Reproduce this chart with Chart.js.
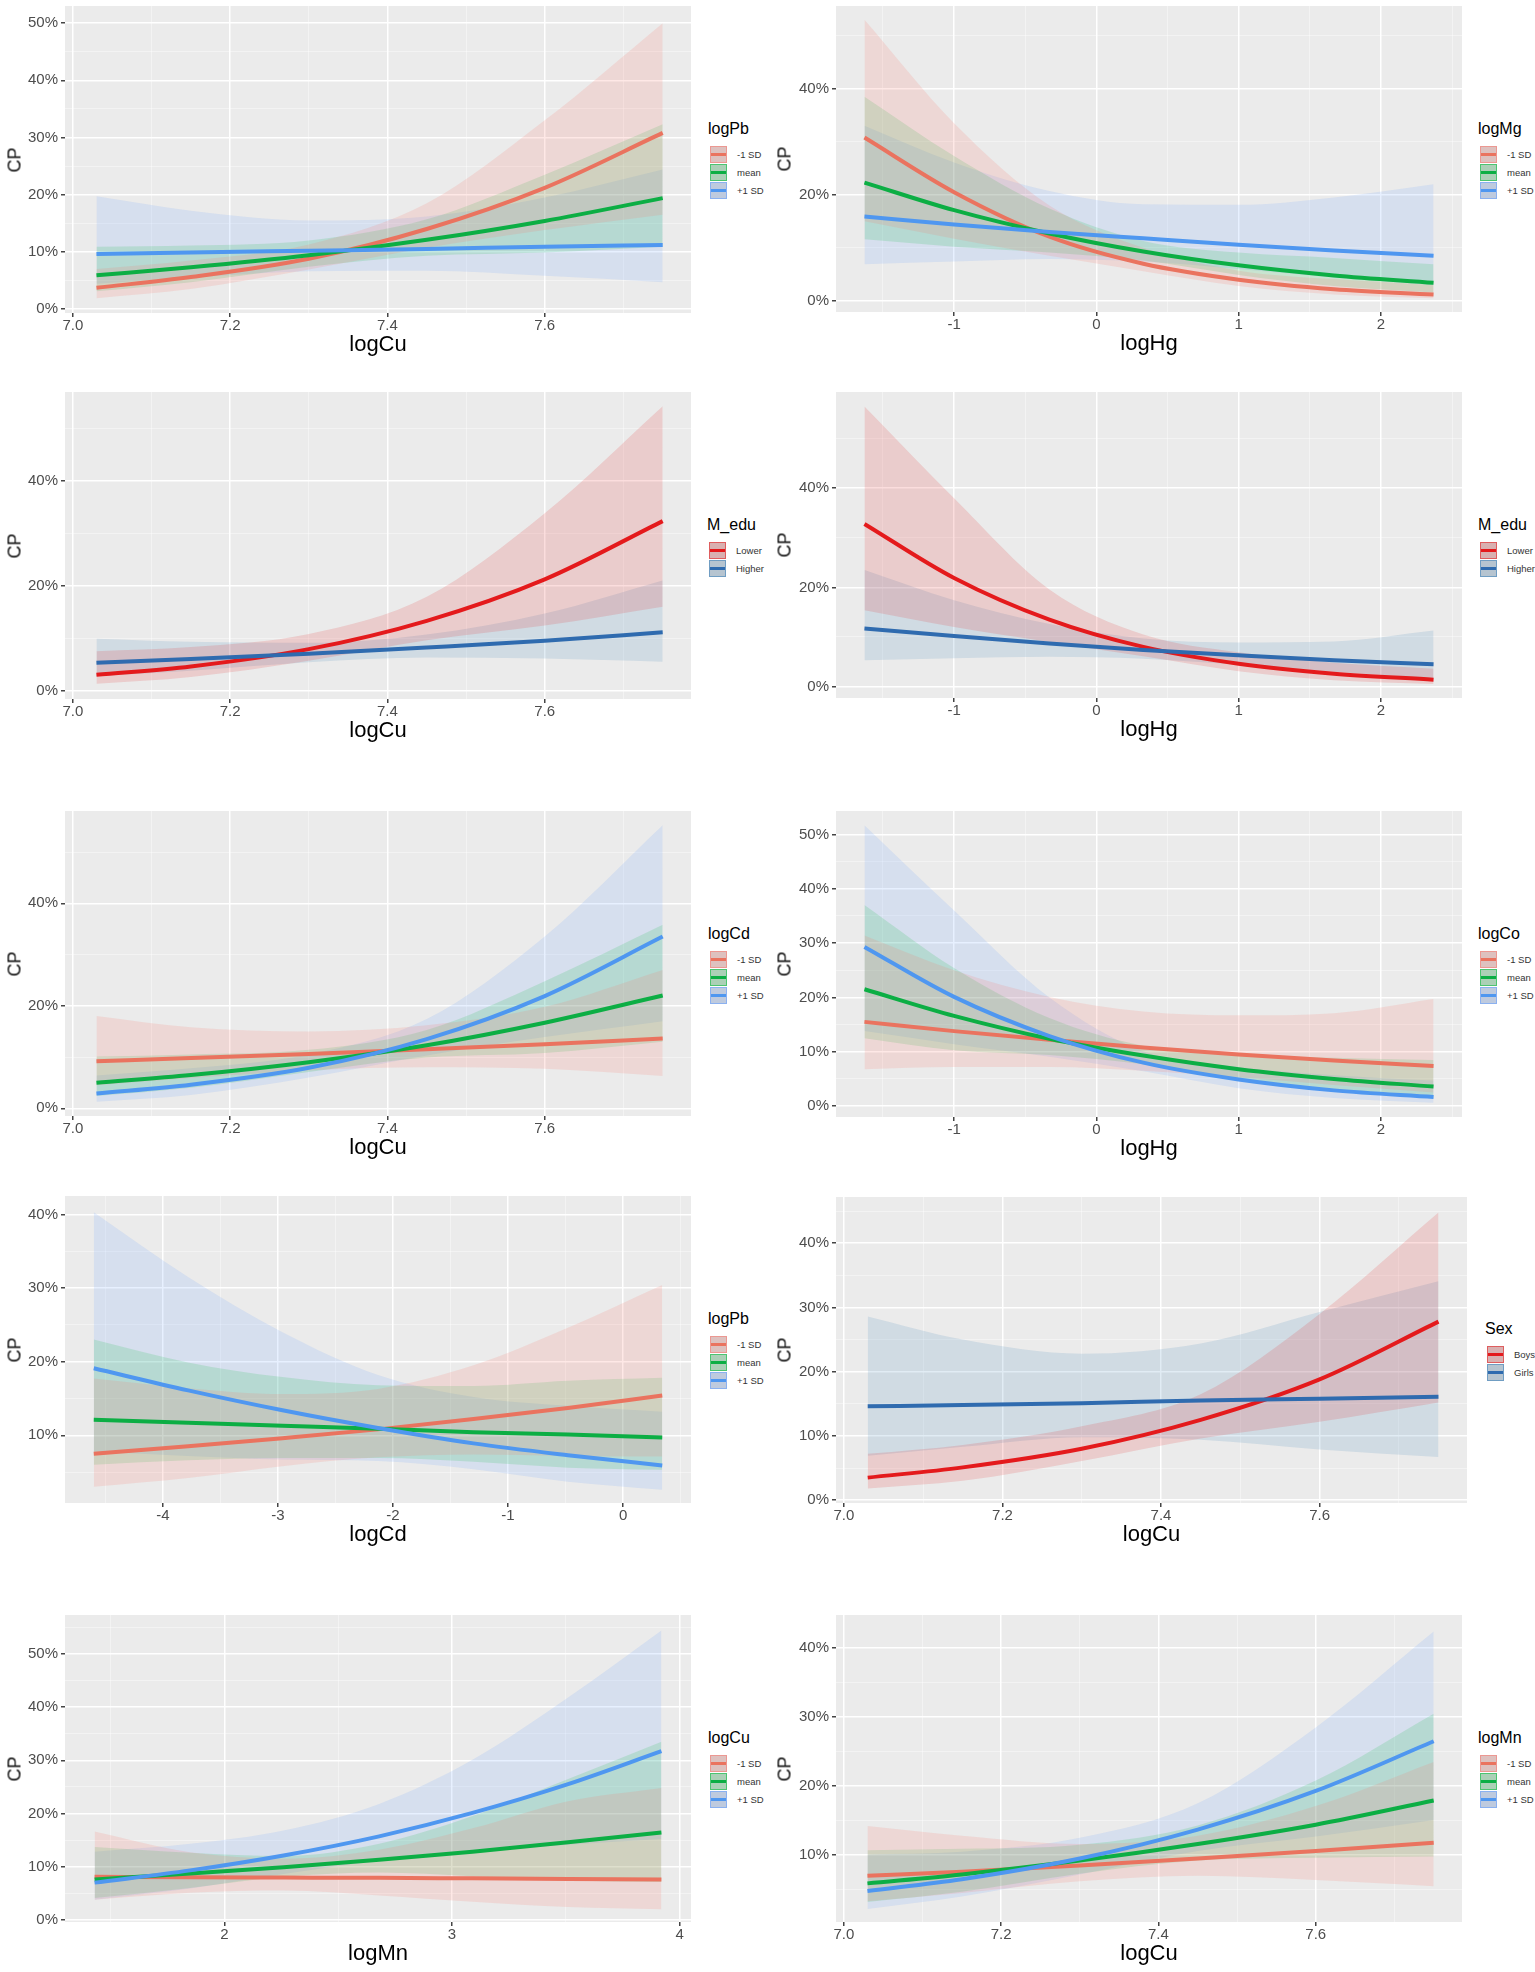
<!DOCTYPE html>
<html><head><meta charset="utf-8">
<script src="https://cdn.jsdelivr.net/npm/chart.js@4.4.0/dist/chart.umd.min.js"></script>
<style>
body{margin:0;background:#fff;width:1535px;height:1972px;position:relative;overflow:hidden;font-family:'Liberation Sans',Arial,Helvetica,sans-serif;}
.box{position:absolute}
.xt{position:absolute;font-size:22px;color:#000;transform:translate(-50%,-50%);white-space:nowrap}
.yt{position:absolute;font-size:18px;color:#111;transform:translate(-50%,-50%) rotate(-90deg);white-space:nowrap}
.lg{position:absolute}
.lg .t{font-size:16px;line-height:18px;color:#000;margin-bottom:7px;margin-left:-2px}
.lg .r{display:flex;align-items:center;height:18.3px}
.lg .k{width:17px;height:17px;position:relative;box-sizing:border-box}
.lg .k i{position:absolute;left:0;right:0;top:50%;height:3px;margin-top:-1.5px}
.lg .l{font-size:9.5px;color:#333;margin-left:10px}
</style></head><body>
<script>
// ---------- x positions (data grid) ----------
const cuX = [7.03, 7.15, 7.3, 7.45, 7.6, 7.75];
const hgX = [-1.63, -1.0, -0.33, 0.33, 1.0, 1.67, 2.37];
const cdX = [-4.6, -3.78, -2.96, -2.13, -1.3, -0.48, 0.34];
const mnX = [1.43, 1.85, 2.26, 2.68, 3.09, 3.51, 3.92];

// ---------- tick labels ----------
const cuTicks = [7.0, 7.2, 7.4, 7.6];   const cuTickLabels = ['7.0','7.2','7.4','7.6'];  const cuMinor = [7.1, 7.3, 7.5, 7.7];
const hgTicks = [-1, 0, 1, 2];          const hgTickLabels = ['-1','0','1','2'];         const hgMinor = [-1.5, -0.5, 0.5, 1.5, 2.5];
const cdTicks = [-4, -3, -2, -1, 0];    const cdTickLabels = ['-4','-3','-2','-1','0'];  const cdMinor = [-4.5, -3.5, -2.5, -1.5, -0.5, 0.5];
const mnTicks = [2, 3, 4];              const mnTickLabels = ['2','3','4'];              const mnMinor = [1.5, 2.5, 3.5];
const yTicks10to50 = [0, 10, 20, 30, 40, 50]; const yMinor10to50 = [5, 15, 25, 35, 45];
const yTicks20 = [0, 20, 40];                 const yMinor20 = [10, 30, 50];
const yTicks0to40 = [0, 10, 20, 30, 40];      const yMinor0to40 = [5, 15, 25, 35, 45];
const yTicks10to40 = [10, 20, 30, 40];        const yMinor10to40 = [5, 15, 25, 35];
const yTicks0to50b = [0, 10, 20, 30, 40, 50]; const yMinor0to50b = [5, 15, 25, 35, 45, 55];

const sdNames = ['-1 SD', 'mean', '+1 SD'];
const eduNames = ['Lower', 'Higher'];
const sexNames = ['Boys', 'Girls'];

// ---------- Panel 1: logCu x logPb (CP %) ----------
const p1Minus   = [3.7, 5.6, 8.8, 14.0, 21.2, 30.8];
const p1MinusLo = [1.9, 3.5, 6.9, 10.7, 13.8, 16.5];
const p1MinusHi = [7.0, 8.5, 11.3, 18.5, 33.0, 50.0];
const p1Mean    = [5.9, 7.3, 9.4, 12.1, 15.4, 19.4];
const p1MeanLo  = [3.1, 4.7, 7.4, 9.3, 9.9, 10.9];
const p1MeanHi  = [10.9, 11.1, 12.0, 15.7, 23.5, 32.3];
const p1Plus    = [9.6, 9.9, 10.2, 10.5, 10.9, 11.2];
const p1PlusLo  = [4.4, 5.5, 6.6, 6.7, 5.8, 4.7];
const p1PlusHi  = [19.7, 17.2, 15.5, 16.2, 19.5, 24.4];

// ---------- Panel 2: logHg x logMg ----------
const p2Minus   = [30.8, 20.5, 12.1, 7.0, 4.0, 2.2, 1.2];
const p2MinusLo = [15.0, 11.7, 8.5, 5.6, 2.8, 1.2, 0.5];
const p2MinusHi = [53.0, 33.5, 18.0, 10.0, 5.7, 4.1, 3.0];
const p2Mean    = [22.3, 17.1, 12.7, 9.3, 6.7, 4.8, 3.4];
const p2MeanLo  = [11.6, 10.2, 9.1, 7.6, 4.9, 2.8, 1.6];
const p2MeanHi  = [38.5, 27.3, 17.4, 11.3, 9.1, 8.1, 6.9];
const p2Plus    = [15.9, 14.4, 13.0, 11.8, 10.6, 9.5, 8.5];
const p2PlusLo  = [6.9, 7.4, 7.9, 7.4, 6.0, 4.4, 3.0];
const p2PlusHi  = [33.0, 26.1, 20.7, 18.2, 18.1, 19.5, 22.0];

// ---------- Panel 3: logCu x M_edu ----------
const p3Lower    = [3.0, 4.6, 7.9, 13.3, 21.2, 32.3];
const p3LowerLo  = [1.3, 2.6, 5.7, 9.6, 12.4, 16.0];
const p3LowerHi  = [7.5, 8.3, 10.8, 17.9, 33.8, 54.2];
const p3Higher   = [5.3, 6.0, 7.0, 8.2, 9.5, 11.1];
const p3HigherLo = [2.8, 3.8, 5.4, 6.3, 6.1, 5.5];
const p3HigherHi = [9.9, 9.3, 9.1, 10.7, 14.7, 21.0];

// ---------- Panel 4: logHg x M_edu ----------
const p4Lower    = [32.8, 21.9, 13.5, 8.0, 4.6, 2.6, 1.4];
const p4LowerLo  = [15.4, 12.0, 9.0, 6.1, 3.1, 1.3, 0.5];
const p4LowerHi  = [56.5, 38.0, 19.6, 10.5, 6.9, 4.8, 3.6];
const p4Higher   = [11.7, 10.2, 8.7, 7.4, 6.3, 5.3, 4.5];
const p4HigherLo = [5.3, 5.7, 6.0, 5.6, 4.4, 3.0, 1.7];
const p4HigherHi = [23.5, 17.4, 12.6, 9.7, 8.9, 9.1, 11.3];

// ---------- Panel 5: logCu x logCd ----------
const p5Minus   = [9.2, 9.8, 10.6, 11.5, 12.5, 13.6];
const p5MinusLo = [4.5, 5.9, 7.4, 8.0, 7.7, 6.3];
const p5MinusHi = [18.0, 15.8, 15.0, 16.2, 19.8, 27.0];
const p5Mean    = [5.0, 6.5, 9.0, 12.3, 16.7, 22.0];
const p5MeanLo  = [2.4, 4.0, 7.1, 9.9, 10.8, 13.0];
const p5MeanHi  = [10.1, 10.5, 11.4, 15.3, 24.8, 35.8];
const p5Plus    = [2.9, 4.6, 7.9, 13.5, 21.9, 33.5];
const p5PlusLo  = [1.3, 2.6, 6.0, 10.3, 13.9, 17.0];
const p5PlusHi  = [6.4, 7.8, 10.5, 17.4, 33.5, 55.2];

// ---------- Panel 6: logHg x logCo ----------
const p6Minus   = [15.5, 13.8, 12.2, 10.8, 9.5, 8.4, 7.4];
const p6MinusLo = [6.8, 7.2, 7.2, 6.5, 5.3, 3.9, 2.5];
const p6MinusHi = [31.4, 25.0, 20.1, 17.4, 16.7, 17.1, 19.7];
const p6Mean    = [21.5, 16.6, 12.4, 9.3, 6.8, 5.0, 3.6];
const p6MeanLo  = [12.5, 10.3, 9.4, 7.7, 5.0, 2.9, 1.5];
const p6MeanHi  = [37.0, 25.4, 16.2, 11.1, 9.4, 8.9, 8.5];
const p6Plus    = [29.3, 20.1, 12.9, 8.0, 4.9, 2.9, 1.7];
const p6PlusLo  = [13.8, 11.4, 9.1, 6.4, 3.3, 1.5, 0.6];
const p6PlusHi  = [51.7, 36.0, 20.0, 10.1, 7.2, 5.7, 4.7];

// ---------- Panel 7: logCd x logPb ----------
const p7Minus   = [7.5, 8.5, 9.6, 10.8, 12.2, 13.7, 15.4];
const p7MinusLo = [3.0, 4.2, 5.8, 7.0, 7.4, 7.2, 7.1];
const p7MinusHi = [17.7, 16.4, 15.6, 16.3, 19.5, 24.6, 30.4];
const p7Mean    = [12.1, 11.7, 11.3, 10.9, 10.4, 10.1, 9.7];
const p7MeanLo  = [6.0, 6.6, 6.9, 6.9, 6.4, 5.6, 5.3];
const p7MeanHi  = [23.0, 19.9, 17.9, 16.8, 16.7, 17.4, 17.8];
const p7Plus    = [19.1, 16.1, 13.4, 11.0, 8.9, 7.3, 5.9];
const p7PlusLo  = [7.8, 7.2, 6.7, 6.5, 5.4, 3.7, 2.6];
const p7PlusHi  = [40.3, 31.5, 24.0, 18.2, 15.2, 14.0, 13.2];

// ---------- Panel 8: logCu x Sex ----------
const p8Boys    = [3.5, 5.1, 8.0, 12.5, 18.8, 27.8];
const p8BoysLo  = [1.8, 3.0, 6.1, 9.6, 12.2, 15.2];
const p8BoysHi  = [7.2, 8.6, 11.5, 16.5, 29.0, 44.8];
const p8Girls   = [14.6, 14.8, 15.1, 15.5, 15.8, 16.1];
const p8GirlsLo = [6.9, 8.3, 9.8, 9.4, 7.9, 6.7];
const p8GirlsHi = [28.6, 25.0, 22.8, 24.4, 29.3, 34.1];

// ---------- Panel 9: logMn x logCu ----------
const p9Minus   = [8.1, 8.0, 7.95, 7.9, 7.8, 7.7, 7.6];
const p9MinusLo = [3.8, 5.1, 5.5, 4.6, 3.4, 2.4, 2.0];
const p9MinusHi = [16.6, 12.7, 11.5, 13.2, 17.2, 22.3, 24.8];
const p9Mean    = [7.6, 8.7, 9.9, 11.3, 12.8, 14.6, 16.4];
const p9MeanLo  = [4.1, 6.0, 8.1, 8.9, 8.2, 7.4, 7.1];
const p9MeanHi  = [13.7, 12.6, 12.0, 14.3, 19.5, 26.5, 33.5];
const p9Plus    = [7.0, 9.3, 12.1, 15.7, 20.1, 25.5, 31.7];
const p9PlusLo  = [3.8, 5.9, 8.6, 11.1, 12.8, 14.1, 15.2];
const p9PlusHi  = [12.8, 14.3, 16.8, 21.8, 30.1, 41.8, 54.4];

// ---------- Panel 10: logCu x logMn ----------
const p10Minus   = [7.0, 7.6, 8.5, 9.5, 10.6, 11.8];
const p10MinusLo = [3.3, 4.5, 6.2, 7.0, 6.4, 5.5];
const p10MinusHi = [14.2, 12.8, 11.6, 12.8, 17.1, 23.5];
const p10Mean    = [5.9, 7.2, 9.2, 11.6, 14.4, 17.9];
const p10MeanLo  = [3.2, 4.7, 7.3, 9.2, 9.6, 9.8];
const p10MeanHi  = [10.7, 10.9, 11.5, 14.3, 20.8, 30.5];
const p10Plus    = [4.8, 6.5, 9.5, 13.7, 19.3, 26.5];
const p10PlusLo  = [2.2, 4.0, 7.2, 10.6, 12.7, 15.1];
const p10PlusHi  = [10.1, 10.5, 12.5, 17.5, 28.5, 42.4];

// ---------- styles ----------
const FONT = "'Liberation Sans', Arial, Helvetica, sans-serif";
const ST = {
  red:   {rgb:[248,118,109], a:0.17, line:'#EA735F'},
  green: {rgb:[0,186,56],    a:0.15, line:'#0CAE44'},
  blue:  {rgb:[97,156,255],  a:0.15, line:'#4F97F0'},
  s1red: {rgb:[228,26,28],   a:0.15, line:'#E41A1C'},
  s1blue:{rgb:[55,126,184],  a:0.15, line:'#2F6BAF'}
};
const rgba = (c, a) => `rgba(${c[0]},${c[1]},${c[2]},${a})`;
const YW = 62, XH = 24;
const L = {l:65, r:691}, R = {l:836, r:1462};

function sd3(names, a, b, c){ return [
  {name:names[0], fit:a[0], lo:a[1], hi:a[2], st:ST.red},
  {name:names[1], fit:b[0], lo:b[1], hi:b[2], st:ST.green},
  {name:names[2], fit:c[0], lo:c[1], hi:c[2], st:ST.blue}]; }
function two(names, a, b){ return [
  {name:names[0], fit:a[0], lo:a[1], hi:a[2], st:ST.s1red},
  {name:names[1], fit:b[0], lo:b[1], hi:b[2], st:ST.s1blue}]; }

const cuAxis = {xs:cuX, xr:[6.99,7.786], maj:cuTicks, lab:cuTickLabels, min:cuMinor, title:'logCu'};
const hgAxis = {xs:hgX, xr:[-1.83,2.57], maj:hgTicks, lab:hgTickLabels, min:hgMinor, title:'logHg'};
const cdAxis = {xs:cdX, xr:[-4.85,0.59], maj:cdTicks, lab:cdTickLabels, min:cdMinor, title:'logCd'};
const mnAxis = {xs:mnX, xr:[1.30,4.05], maj:mnTicks, lab:mnTickLabels, min:mnMinor, title:'logMn'};

const panels = [
  {ax:cuAxis, yr:[-0.7,53], ym:yTicks10to50, yn:yMinor10to50, lt:'logPb',
   ser:sd3(sdNames,[p1Minus,p1MinusLo,p1MinusHi],[p1Mean,p1MeanLo,p1MeanHi],[p1Plus,p1PlusLo,p1PlusHi]),
   g:{...L, t:6, b:313}, leg:{x:708, y:120}},
  {ax:hgAxis, yr:[-2.1,55.6], ym:yTicks20, yn:yMinor20, lt:'logMg',
   ser:sd3(sdNames,[p2Minus,p2MinusLo,p2MinusHi],[p2Mean,p2MeanLo,p2MeanHi],[p2Plus,p2PlusLo,p2PlusHi]),
   g:{...R, t:6, b:312}, leg:{x:1478, y:120}},
  {ax:cuAxis, yr:[-1.6,56.9], ym:yTicks20, yn:yMinor20, lt:'M_edu',
   ser:two(eduNames,[p3Lower,p3LowerLo,p3LowerHi],[p3Higher,p3HigherLo,p3HigherHi]),
   g:{...L, t:392, b:699}, leg:{x:707, y:516}},
  {ax:hgAxis, yr:[-2.3,59.4], ym:yTicks20, yn:yMinor20, lt:'M_edu',
   ser:two(eduNames,[p4Lower,p4LowerLo,p4LowerHi],[p4Higher,p4HigherLo,p4HigherHi]),
   g:{...R, t:392, b:698}, leg:{x:1478, y:516}},
  {ax:cuAxis, yr:[-1.5,58], ym:yTicks20, yn:yMinor20, lt:'logCd',
   ser:sd3(sdNames,[p5Minus,p5MinusLo,p5MinusHi],[p5Mean,p5MeanLo,p5MeanHi],[p5Plus,p5PlusLo,p5PlusHi]),
   g:{...L, t:811, b:1116}, leg:{x:708, y:925}},
  {ax:hgAxis, yr:[-2,54.3], ym:yTicks10to50, yn:yMinor10to50, lt:'logCo',
   ser:sd3(sdNames,[p6Minus,p6MinusLo,p6MinusHi],[p6Mean,p6MeanLo,p6MeanHi],[p6Plus,p6PlusLo,p6PlusHi]),
   g:{...R, t:811, b:1117}, leg:{x:1478, y:925}},
  {ax:cdAxis, yr:[0.8,42.5], ym:yTicks10to40, yn:yMinor10to40, lt:'logPb',
   ser:sd3(sdNames,[p7Minus,p7MinusLo,p7MinusHi],[p7Mean,p7MeanLo,p7MeanHi],[p7Plus,p7PlusLo,p7PlusHi]),
   g:{...L, t:1196, b:1503}, leg:{x:708, y:1310}},
  {ax:cuAxis, yr:[-0.45,47.2], ym:yTicks0to40, yn:yMinor0to40, lt:'Sex',
   ser:two(sexNames,[p8Boys,p8BoysLo,p8BoysHi],[p8Girls,p8GirlsLo,p8GirlsHi]),
   g:{l:836, r:1467, t:1197, b:1503}, leg:{x:1485, y:1320}},
  {ax:mnAxis, yr:[-0.4,57.3], ym:yTicks0to50b, yn:yMinor0to50b, lt:'logCu',
   ser:sd3(sdNames,[p9Minus,p9MinusLo,p9MinusHi],[p9Mean,p9MeanLo,p9MeanHi],[p9Plus,p9PlusLo,p9PlusHi]),
   g:{...L, t:1615, b:1922}, leg:{x:708, y:1729}},
  {ax:cuAxis, yr:[0.3,44.8], ym:yTicks10to40, yn:yMinor10to40, lt:'logMn',
   ser:sd3(sdNames,[p10Minus,p10MinusLo,p10MinusHi],[p10Mean,p10MeanLo,p10MeanHi],[p10Plus,p10PlusLo,p10PlusHi]),
   g:{...R, t:1615, b:1922}, leg:{x:1478, y:1729}}
];

const bgPlugin = {
  id:'panelBg',
  beforeDraw(chart){
    const a = chart.chartArea, ctx = chart.ctx;
    ctx.save(); ctx.fillStyle = '#EBEBEB';
    ctx.fillRect(a.left, a.top, a.right - a.left, a.bottom - a.top);
    ctx.restore();
  }
};

function tickList(maj, min){ return maj.concat(min).sort((a,b)=>a-b).map(v=>({value:v})); }

function gridOpts(maj){
  return {
    color: c => (c.tick && maj.includes(c.tick.value)) ? '#FFFFFF' : 'rgba(255,255,255,0.6)',
    lineWidth: c => (c.tick && maj.includes(c.tick.value)) ? 1.5 : 0.7,
    tickColor: c => (c.tick && maj.includes(c.tick.value)) ? '#444444' : 'rgba(0,0,0,0)',
    tickLength: 4, drawTicks: true, drawOnChartArea: true
  };
}

function makeChart(p){
  const W = YW + (p.g.r - p.g.l), H = (p.g.b - p.g.t) + XH;
  const cont = document.createElement('div'); cont.className = 'box';
  cont.style.cssText = `left:${p.g.l - YW}px;top:${p.g.t}px;width:${W}px;height:${H}px`;
  const cv = document.createElement('canvas'); cont.appendChild(cv); document.body.appendChild(cont);

  const xs = p.ax.xs;
  const pts = ys => xs.map((x,i)=>({x:x, y:ys[i]}));
  const ds = [];
  p.ser.forEach(s => {
    const idx = ds.length;
    ds.push({data:pts(s.hi), borderWidth:0, pointRadius:0, fill:idx+1, backgroundColor:rgba(s.st.rgb, s.st.a), cubicInterpolationMode:'monotone', order:20});
    ds.push({data:pts(s.lo), borderWidth:0, pointRadius:0, fill:false, cubicInterpolationMode:'monotone', order:20});
  });
  p.ser.forEach((s,i) => {
    ds.push({data:pts(s.fit), borderColor:s.st.line, borderWidth:4, pointRadius:0, fill:false, cubicInterpolationMode:'monotone', order:p.ser.length - i, borderCapStyle:'butt'});
  });

  new Chart(cv, {
    type:'line',
    data:{datasets:ds},
    plugins:[bgPlugin],
    options:{
      responsive:true, maintainAspectRatio:false, animation:false, events:[],
      layout:{padding:0, autoPadding:false},
      plugins:{legend:{display:false}, tooltip:{enabled:false}, filler:{drawTime:'beforeDatasetsDraw'}},
      scales:{
        x:{type:'linear', min:p.ax.xr[0], max:p.ax.xr[1],
           afterBuildTicks: sc => { sc.ticks = tickList(p.ax.maj, p.ax.min); },
           afterFit: sc => { sc.height = XH; sc.paddingLeft = 0; sc.paddingRight = 0; },
           ticks:{autoSkip:false, maxRotation:0, minRotation:0, padding:0, color:'#4D4D4D', font:{size:15, family:FONT},
             callback: v => { const i = p.ax.maj.indexOf(v); return i >= 0 ? p.ax.lab[i] : ''; }},
           grid:gridOpts(p.ax.maj), border:{display:false}},
        y:{type:'linear', min:p.yr[0], max:p.yr[1],
           afterBuildTicks: sc => { sc.ticks = tickList(p.ym, p.yn); },
           afterFit: sc => { sc.width = YW; sc.paddingTop = 0; sc.paddingBottom = 0; },
           ticks:{autoSkip:false, padding:3, color:'#4D4D4D', font:{size:15, family:FONT},
             callback: v => p.ym.includes(v) ? v + '%' : ''},
           grid:gridOpts(p.ym), border:{display:false}}
      }
    }
  });

  // axis titles
  const xt = document.createElement('div'); xt.className = 'xt'; xt.textContent = p.ax.title;
  xt.style.left = ((p.g.l + p.g.r) / 2) + 'px'; xt.style.top = (p.g.b + 31) + 'px';
  document.body.appendChild(xt);
  const yt = document.createElement('div'); yt.className = 'yt'; yt.textContent = 'CP';
  yt.style.left = (p.g.l < 400 ? 15 : 785) + 'px'; yt.style.top = ((p.g.t + p.g.b) / 2) + 'px';
  document.body.appendChild(yt);

  // legend
  const lg = document.createElement('div'); lg.className = 'lg';
  lg.style.left = (p.leg.x + 2) + 'px'; lg.style.top = p.leg.y + 'px';
  const t = document.createElement('div'); t.className = 't'; t.textContent = p.lt; lg.appendChild(t);
  p.ser.forEach(s => {
    const r = document.createElement('div'); r.className = 'r';
    const k = document.createElement('div'); k.className = 'k';
    k.style.background = `linear-gradient(${rgba(s.st.rgb, s.st.a + 0.05)}, ${rgba(s.st.rgb, s.st.a + 0.05)}), #D6D6D6`;
    k.style.border = `1.5px solid ${rgba(s.st.rgb, 0.55)}`;
    const i = document.createElement('i'); i.style.background = s.st.line; k.appendChild(i);
    const l = document.createElement('div'); l.className = 'l'; l.textContent = s.name;
    r.appendChild(k); r.appendChild(l); lg.appendChild(r);
  });
  document.body.appendChild(lg);
}

panels.forEach(makeChart);
</script>
</body></html>
